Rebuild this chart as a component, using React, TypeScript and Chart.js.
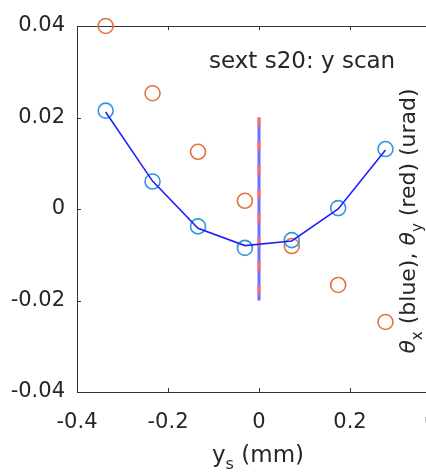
import React, { useEffect, useRef } from "react";
import { Chart, registerables } from "chart.js";

Chart.register(...registerables);

// ---- data ----
const ysScan = [-0.337, -0.234, -0.134, -0.031, 0.072, 0.174, 0.278];
const thetaX = [0.0215, 0.006, -0.0038, -0.0085, -0.0068, 0.0002, 0.0131];
const thetaXFit = [0.0212, 0.0061, -0.0042, -0.008, -0.007, 0.0, 0.0129];
const thetaY = [0.04, 0.0253, 0.0125, 0.0018, -0.0081, -0.0166, -0.0247];
const centerLineX = [0, 0];
const centerLineY = [0.02, -0.02];
const xTicks = [-0.4, -0.2, 0, 0.2, 0.4];
const yTicks = [-0.04, -0.02, 0, 0.02, 0.04];
const titleText = "sext s20: y scan";

const FONT = '"DejaVu Sans", "Liberation Sans", Arial, sans-serif';
const TXT = "#262626";

type Seg = { t: string; sub?: boolean; italic?: boolean };

function drawRich(ctx: CanvasRenderingContext2D, segs: Seg[], x: number, y: number, size: number, align: "center" | "left") {
  const f = (s: Seg) => `${s.italic ? "italic " : ""}${s.sub ? Math.round(size * 0.7) : size}px ${FONT}`;
  const widths = segs.map((s) => {
    ctx.font = f(s);
    return ctx.measureText(s.t).width;
  });
  const total = widths.reduce((a, b) => a + b, 0);
  let cx = align === "center" ? x - total / 2 : x;
  ctx.textAlign = "left";
  ctx.textBaseline = "alphabetic";
  segs.forEach((s, i) => {
    ctx.font = f(s);
    ctx.fillText(s.t, cx, s.sub ? y + size * 0.32 : y);
    cx += widths[i];
  });
}

const decorPlugin = {
  id: "decor",
  beforeDatasetsDraw(chart: any) {
    const { ctx, chartArea, scales } = chart;
    const { left, right, top, bottom } = chartArea;
    ctx.save();
    ctx.strokeStyle = "#333333";
    ctx.lineWidth = 1;
    ctx.strokeRect(left + 0.5, top + 0.5, right - left, bottom - top);
    ctx.beginPath();
    xTicks.forEach((v) => {
      const px = Math.round(scales.x.getPixelForValue(v)) + 0.5;
      ctx.moveTo(px, bottom);
      ctx.lineTo(px, bottom - 4);
      ctx.moveTo(px, top);
      ctx.lineTo(px, top + 4);
    });
    yTicks.forEach((v) => {
      const py = Math.round(scales.y.getPixelForValue(v)) + 0.5;
      ctx.moveTo(left, py);
      ctx.lineTo(left + 4, py);
      ctx.moveTo(right, py);
      ctx.lineTo(right - 4, py);
    });
    ctx.stroke();
    ctx.restore();
  },
  afterDraw(chart: any) {
    const { ctx, chartArea } = chart;
    ctx.save();
    ctx.fillStyle = TXT;
    drawRich(ctx, [{ t: titleText }], chartArea.left + 132, chartArea.top + 42, 23, "left");
    drawRich(ctx, [{ t: "y" }, { t: "s", sub: true }, { t: " (mm)" }], 258, 462, 23, "center");
    ctx.translate(415, 221);
    ctx.rotate(-Math.PI / 2);
    drawRich(
      ctx,
      [
        { t: "θ", italic: true },
        { t: "x", sub: true },
        { t: " (blue), " },
        { t: "θ", italic: true },
        { t: "y", sub: true },
        { t: " (red) (urad)" },
      ],
      0,
      0,
      22,
      "center"
    );
    ctx.restore();
  },
};

export default function App() {
  const ref = useRef<HTMLCanvasElement>(null);
  useEffect(() => {
    if (!ref.current) return;
    const pts = (xs: number[], ys: number[]) => xs.map((x, i) => ({ x, y: ys[i] }));
    const chart = new Chart(ref.current, {
      type: "scatter",
      data: {
        datasets: [
          {
            label: "center blue",
            data: pts(centerLineX, centerLineY),
            showLine: true,
            borderColor: "#6e6eff",
            borderWidth: 3,
            pointRadius: 0,
            order: 5,
          } as any,
          {
            label: "center red",
            data: pts(centerLineX, centerLineY),
            showLine: true,
            borderColor: "#ff6e6e",
            borderWidth: 3,
            borderCapStyle: "butt",
            borderDash: [9, 15],
            pointRadius: 0,
            order: 4,
          },
          {
            label: "theta y",
            data: pts(ysScan, thetaY),
            pointStyle: "circle",
            pointRadius: 7.5,
            pointBorderWidth: 1.6,
            pointBorderColor: "#e2743f",
            pointBackgroundColor: "rgba(0,0,0,0)",
            showLine: false,
            order: 3,
            clip: false,
          },
          {
            label: "theta x",
            data: pts(ysScan, thetaX),
            pointStyle: "circle",
            pointRadius: 7.5,
            pointBorderWidth: 1.6,
            pointBorderColor: "#3396dc",
            pointBackgroundColor: "rgba(0,0,0,0)",
            showLine: false,
            order: 2,
            clip: false,
          },
          {
            label: "fit",
            data: pts(ysScan, thetaXFit),
            showLine: true,
            borderColor: "#2020ff",
            borderWidth: 1.6,
            pointRadius: 0,
            order: 1,
          },
        ],
      },
      options: {
        animation: false,
        responsive: false,
        devicePixelRatio: 1,
        layout: { padding: { left: 0, top: 26, right: 39, bottom: 0 } },
        plugins: { legend: { display: false }, tooltip: { enabled: false } },
        scales: {
          x: {
            type: "linear",
            min: -0.4,
            max: 0.4,
            grid: { display: false },
            border: { display: false },
            ticks: {
              stepSize: 0.2,
              padding: 10,
              color: TXT,
              font: { family: FONT, size: 21 },
              callback: (v: any) => {
                const n = Number(Number(v).toFixed(1));
                return n === 0 ? "0" : String(n);
              },
            },
            afterFit: (s: any) => {
              s.height = 81;
            },
          },
          y: {
            type: "linear",
            min: -0.04,
            max: 0.04,
            grid: { display: false },
            border: { display: false },
            ticks: {
              stepSize: 0.02,
              padding: 4,
              color: TXT,
              font: { family: FONT, size: 21 },
              callback: (v: any) => {
                const n = Number(Number(v).toFixed(2));
                return n === 0 ? "0" : String(n);
              },
            },
            afterFit: (s: any) => {
              s.width = 77;
            },
          },
        },
      },
      plugins: [decorPlugin],
    });
    return () => chart.destroy();
  }, []);
  return (
    <div style={{ position: "fixed", left: 0, top: 0, width: 426, height: 473, overflow: "hidden", background: "#fff" }}>
      <canvas ref={ref} width={480} height={473} style={{ display: "block" }} />
    </div>
  );
}
